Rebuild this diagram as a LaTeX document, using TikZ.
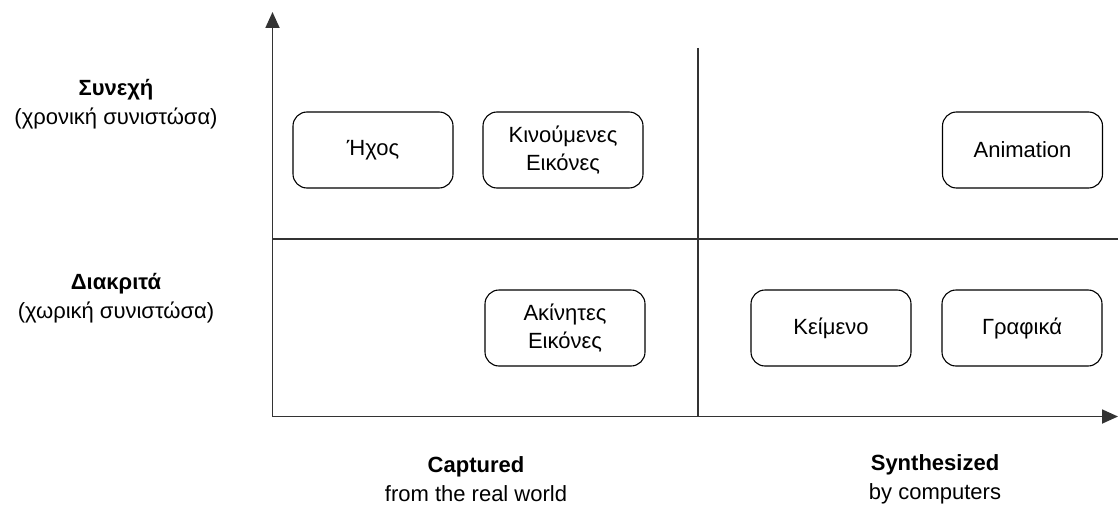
\documentclass[tikz,border=0pt]{standalone}
\usepackage{fontspec}
\setmainfont{Liberation Sans}
\usetikzlibrary{arrows.meta}

\tikzset{
	media/.style={draw, line width=1.1pt, rounded corners=14pt, minimum width=160pt, minimum height=76pt, inner sep=0pt, align=center, font=\fontsize{22}{28}\selectfont},
	axisline/.style={draw=black!80, line width=1.8pt},
	axistip/.style={-{Triangle[length=16pt,width=14pt]}},
	catlabel/.style={align=center, inner sep=0pt, font=\fontsize{22}{29}\selectfont}
}

\begin{document}
\begin{tikzpicture}[x=1pt,y=1pt,yscale=-1,xscale=1]
	\useasboundingbox (0,0) rectangle (1118,511);
	
	%Coordinates of the axes
	\coordinate (origin) at (272.5,416.5);
	\coordinate (ytip) at (272.5,12);
	\coordinate (xtip) at (1118,416.5);
	\coordinate (vtop) at (698,48);
	\coordinate (vbot) at (698,416.5);
	\coordinate (hleft) at (272.5,239);
	\coordinate (hright) at (1118,239);
	
	%Straight Lines: axes
	\draw [axisline, axistip] (origin) -- (ytip);
	\draw [axisline, axistip] (origin) -- (xtip);
	%Straight Lines: dividers
	\draw [axisline] (vtop) -- (vbot);
	\draw [axisline] (hleft) -- (hright);
	
	%Shape: Rounded Rectangles
	\node [media] (sound) at (373,150) {Ήχος};
	\node [media] (video) at (563,150) {Κινούμενες\\Εικόνες};
	\node [media] (anim) at (1022.5,150) {Animation};
	\node [media] (image) at (565,328) {Ακίνητες\\Εικόνες};
	\node [media] (text) at (831,328) {Κείμενο};
	\node [media] (graph) at (1022,328) {Γραφικά};
	
	% Text Node
	\node [catlabel] (cont) at (116,104) {\textbf{Συνεχή}\\(χρονική συνιστώσα)};
	% Text Node
	\node [catlabel] (disc) at (116,298) {\textbf{Διακριτά}\\(χωρική συνιστώσα)};
	% Text Node
	\node [catlabel] (capt) at (476,479) {\textbf{Captured}\\from the real world};
	% Text Node
	\node [catlabel] (synth) at (935,479) {\textbf{Synthesized}\\by computers};
	
\end{tikzpicture}
\end{document}
